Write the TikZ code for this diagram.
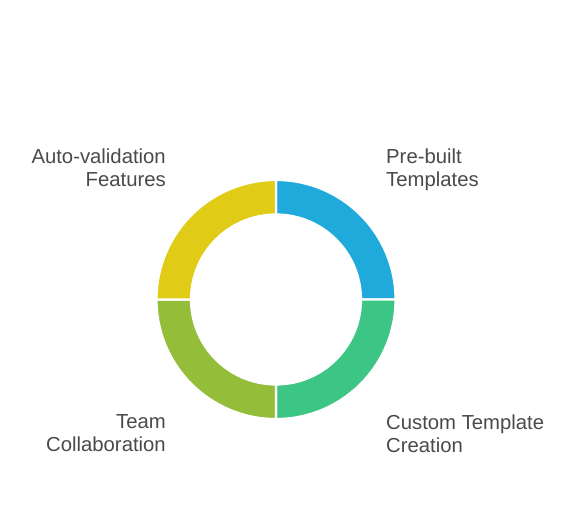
\documentclass[tikz,border=0pt]{standalone}
\usepackage{fontspec}
\setmainfont{Liberation Sans}
\usetikzlibrary{calc}
\definecolor{cblue}{HTML}{1FAADB}
\definecolor{cgreen}{HTML}{3DC585}
\definecolor{colive}{HTML}{94BD3A}
\definecolor{cyellow}{HTML}{E0CB17}
\definecolor{ctext}{HTML}{4A4A4A}
\begin{document}
\begin{tikzpicture}[x=1pt,y=1pt,
  seg/.style={draw=white,line width=2.2pt,line join=miter},
  lbl/.style={inner sep=0pt,text=ctext,font=\fontsize{20.3}{23}\selectfont}]
\useasboundingbox[fill=white] (0,0) rectangle (576,504);
\coordinate (c) at (276,204.5);
\foreach \a/\col in {0/cblue,270/cgreen,180/colive,90/cyellow}{
  \fill[seg,fill=\col] (c) ++(\a:119.5) arc[start angle=\a,delta angle=90,radius=119.5]
     -- ($(c)+(\a+90:85)$) arc[start angle=\a+90,delta angle=-90,radius=85] -- cycle;
}
\node[lbl,anchor=north west,align=left] (pre) at (386,355) {Pre-built\\Templates};
\node[lbl,anchor=north west,align=left] (cus) at (386,89.5) {Custom Template\\Creation};
\node[lbl,anchor=north east,align=right] (auto) at (166,355) {Auto-validation\\Features};
\node[lbl,anchor=north east,align=right] (team) at (166,89.5) {Team\\Collaboration};
\end{tikzpicture}
\end{document}
